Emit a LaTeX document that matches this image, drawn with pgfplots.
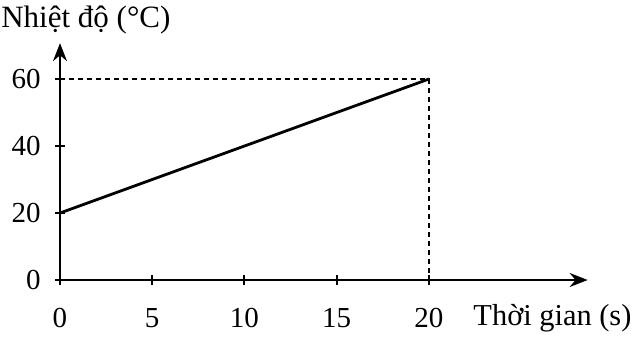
\documentclass[border=0pt]{standalone}
\usepackage{fontspec}
\setmainfont{Liberation Serif}
\usepackage{pgfplots}
\pgfplotsset{compat=1.18}
\usetikzlibrary{arrows.meta}
\begin{document}
\fontsize{14.5}{17}\selectfont
\begin{tikzpicture}
\path[use as bounding box] (-30pt,-29.5pt) rectangle (286.5pt,140pt);
\begin{axis}[
  at={(0,0)}, anchor=origin,
  x=9.225pt, y=1.675pt,
  xmin=0, xmax=28.6, ymin=0, ymax=70.7,
  enlargelimits=false,
  axis lines=left,
  axis line style={line width=1pt, black, -{Stealth[length=9pt,width=7pt]}},
  xtick={0,5,10,15,20}, ytick={0,20,40,60},
  tick align=center, major tick length=5pt,
  tick style={line width=1pt, black},
  xticklabel style={anchor=base, inner sep=0pt, at={(axis cs:\tick,0)}, yshift=-21pt},
  yticklabel style={anchor=base east, inner sep=0pt, xshift=-7pt, yshift=-4.6pt},
  /pgf/number format/assume math mode=true,
  ticklabel style={font=\fontsize{14.5}{17}\selectfont},
  clip=false,
]
\addplot[black, line width=1.4pt] coordinates {(0,20) (20,60)};
\addplot[black, line width=0.8pt, dash pattern=on 2.5pt off 2pt] coordinates {(0,60) (20,60) (20,0)};
\node[anchor=base west, inner sep=0pt, font=\fontsize{15.2}{18}\selectfont] at (axis cs:22.39,-13.7) {Thời gian (s)};
\node[anchor=base west, inner sep=0pt, font=\fontsize{15.5}{18}\selectfont] at (axis cs:-3.2,75.5) {Nhiệt độ (°C)};
\end{axis}
\end{tikzpicture}
\end{document}
